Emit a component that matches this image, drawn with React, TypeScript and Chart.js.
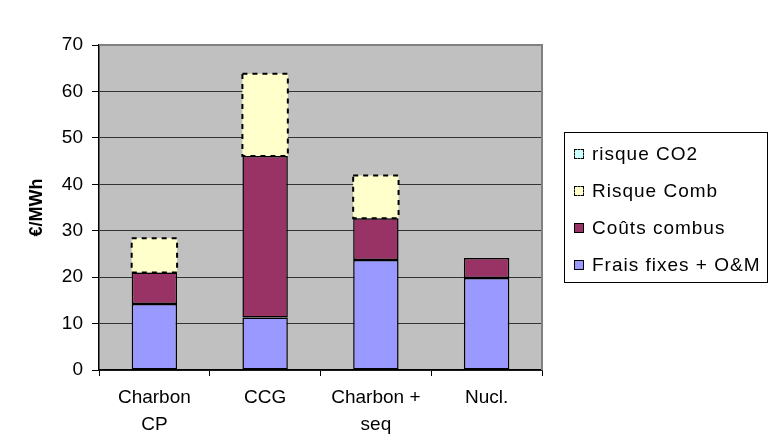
import React, { useEffect, useRef } from 'react';
import { Chart, registerables } from 'chart.js';

Chart.register(...registerables);

const categories: (string | string[])[] = [['Charbon', 'CP'], 'CCG', ['Charbon +', 'seq'], 'Nucl.'];
const fraisFixes = [14.2, 11.3, 23.7, 19.8];
const coutsCombus = [6.8, 34.8, 9.0, 4.3];
const risqueComb = [7.4, 17.7, 9.2, 0];
const risqueCO2 = [0, 0, 0, 0];
const yTicks = [0, 10, 20, 30, 40, 50, 60, 70];

const seriesNames = ['Frais fixes + O&M', 'Coûts combus', 'Risque Comb', 'risque CO2'];
const seriesColors = ['#9999FF', '#993366', '#FFFFCC', '#CCFFFF'];
const dashedSeries = [false, false, true, true];

const FONT = '"Liberation Sans", Arial, sans-serif';

const plotBgPlugin = {
  id: 'plotBg',
  beforeDraw(chart: any) {
    const { ctx, chartArea } = chart;
    ctx.save();
    ctx.fillStyle = '#C0C0C0';
    ctx.fillRect(chartArea.left, chartArea.top, chartArea.right - chartArea.left, chartArea.bottom - chartArea.top);
    ctx.restore();
  },
  afterDraw(chart: any) {
    const { ctx, chartArea } = chart;
    ctx.save();
    ctx.strokeStyle = '#808080';
    ctx.lineWidth = 2;
    ctx.beginPath();
    ctx.moveTo(chartArea.left, chartArea.top);
    ctx.lineTo(chartArea.right, chartArea.top);
    ctx.lineTo(chartArea.right, chartArea.bottom);
    ctx.stroke();
    ctx.restore();
  },
};

const dashedBorderPlugin = {
  id: 'dashedBorder',
  afterDatasetsDraw(chart: any) {
    const { ctx } = chart;
    chart.data.datasets.forEach((ds: any, i: number) => {
      if (!dashedSeries[i]) return;
      const meta = chart.getDatasetMeta(i);
      meta.data.forEach((el: any, j: number) => {
        if (!ds.data[j]) return;
        const { x, y, base, width } = el.getProps(['x', 'y', 'base', 'width'], true);
        const l = x - width / 2;
        ctx.save();
        ctx.strokeStyle = '#000';
        ctx.lineWidth = 2;
        ctx.setLineDash([5, 5]);
        ctx.strokeRect(l, y, width, base - y);
        ctx.restore();
      });
    });
  },
};

export default function App() {
  const ref = useRef<HTMLCanvasElement>(null);

  useEffect(() => {
    if (!ref.current) return;
    const data = [fraisFixes, coutsCombus, risqueComb, risqueCO2];
    const chart = new Chart(ref.current, {
      type: 'bar',
      data: {
        labels: categories as any,
        datasets: data.map((d, i) => ({
          label: seriesNames[i],
          data: d,
          backgroundColor: seriesColors[i],
          borderColor: '#000',
          borderWidth: dashedSeries[i] ? 0 : 1.5,
          borderSkipped: false,
          barPercentage: 0.41,
          categoryPercentage: 1,
        })),
      },
      options: {
        animation: false,
        responsive: false,
        devicePixelRatio: 1,
        layout: { padding: { top: 45, right: 227, left: 0, bottom: 0 } },
        plugins: {
          legend: { display: false },
          tooltip: { enabled: false },
        },
        font: { family: FONT, size: 19 } as any,
        scales: {
          x: {
            stacked: true,
            grid: {
              offset: true,
              drawOnChartArea: false,
              drawTicks: true,
              tickLength: 6,
              tickColor: '#000',
            },
            border: { display: true, color: '#000', width: 1.5 },
            ticks: {
              color: '#000',
              font: { family: FONT, size: 19, lineHeight: 1.38 },
              padding: 9,
              maxRotation: 0,
              autoSkip: false,
            },
            afterFit(scale: any) {
              scale.height = 73;
            },
          },
          y: {
            stacked: true,
            min: 0,
            max: 70,
            afterBuildTicks(scale: any) {
              scale.ticks = yTicks.map((v) => ({ value: v }));
            },
            grid: {
              color: '#333',
              lineWidth: 1,
              tickLength: 7,
              tickColor: '#000',
            },
            border: { display: true, color: '#000', width: 1.5 },
            ticks: {
              color: '#000',
              font: { family: FONT, size: 19 },
              padding: 9,
            },
            title: {
              display: true,
              text: '€/MWh',
              color: '#000',
              font: { family: FONT, size: 18, weight: 'bold' },
              padding: { top: 26, bottom: 0 },
            },
            afterFit(scale: any) {
              scale.width = 99;
            },
          },
        },
      },
      plugins: [plotBgPlugin, dashedBorderPlugin],
    });
    return () => chart.destroy();
  }, []);

  const legendOrder = [3, 2, 1, 0];

  return (
    <div style={{ position: 'fixed', left: 0, top: 0, width: 769, height: 443, background: '#fff' }}>
      <canvas ref={ref} width={769} height={443} style={{ width: 769, height: 443, display: 'block' }} />
      <div
        style={{
          position: 'absolute',
          left: 564,
          top: 132,
          width: 204,
          height: 151,
          boxSizing: 'border-box',
          border: '1px solid #000',
          fontFamily: FONT,
          fontSize: 19,
          letterSpacing: '1px',
          color: '#000',
        }}
      >
        {legendOrder.map((i, k) => (
          <div
            key={i}
            style={{
              position: 'absolute',
              left: 9,
              top: 21 + k * 37 - 12,
              height: 24,
              display: 'flex',
              alignItems: 'center',
              whiteSpace: 'nowrap',
            }}
          >
            <span
              style={{
                display: 'inline-block',
                width: 10,
                height: 10,
                boxSizing: 'border-box',
                background: seriesColors[i],
                border: dashedSeries[i] ? '1.5px dashed #000' : '1.5px solid #000',
                marginRight: 8,
              }}
            />
            <span>{seriesNames[i]}</span>
          </div>
        ))}
      </div>
    </div>
  );
}
